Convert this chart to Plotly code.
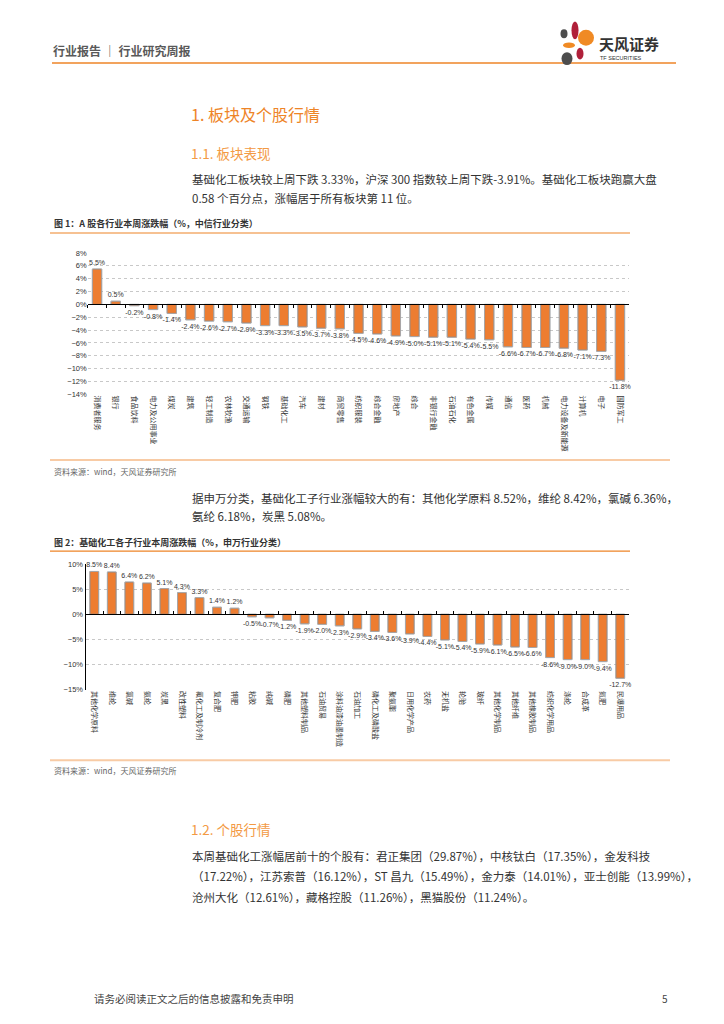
import plotly.graph_objects as go

# the page body keeps an 8px margin, so the figure is drawn 8px in from the window edge
PAGE_W, PAGE_H = 724, 1024
OFF = 8
W, H = PAGE_W - 2 * OFF, PAGE_H - 2 * OFF

# chart 1: CITIC industries, weekly change (%)
ind_names = ["消费者服务", "银行", "食品饮料", "电力及公用事业", "煤炭", "建筑", "轻工制造",
             "农林牧渔", "交通运输", "钢铁", "基础化工", "汽车", "建材", "商贸零售",
             "纺织服装", "综合金融", "房地产", "综合", "非银行金融", "石油石化", "有色金属",
             "传媒", "通信", "医药", "机械", "电力设备及新能源", "计算机", "电子", "国防军工"]
ind_chg = [5.5, 0.5, -0.2, -0.8, -1.4, -2.4, -2.6, -2.7, -2.9, -3.3, -3.3, -3.5, -3.7, -3.8,
           -4.5, -4.6, -4.9, -5.0, -5.1, -5.1, -5.4, -5.5, -6.6, -6.7, -6.7, -6.8, -7.1, -7.3,
           -11.8]

# chart 2: SW basic chemicals sub-industries, weekly change (%)
sub_names = ["其他化学原料", "维纶", "氯碱", "氨纶", "炭黑", "改性塑料", "氟化工及制冷剂",
             "复合肥", "钾肥", "粘胶", "纯碱", "磷肥", "其他塑料制品", "石油贸易",
             "涂料油漆油墨制造", "石油加工", "磷化工及磷酸盐", "聚氨酯", "日用化学产品", "农药",
             "无机盐", "轮胎", "玻纤", "其他化学制品", "其他纤维", "其他橡胶制品",
             "纺织化学用品", "涤纶", "合成革", "氮肥", "民爆用品"]
sub_chg = [8.5, 8.4, 6.4, 6.2, 5.1, 4.3, 3.3, 1.4, 1.2, -0.5, -0.7, -1.2, -1.9, -2.0, -2.3,
           -2.9, -3.4, -3.6, -3.9, -4.4, -5.1, -5.4, -5.9, -6.1, -6.5, -6.6, -8.6, -9.0, -9.0,
           -9.4, -12.7]

ORANGE = "#ED7D31"
LINE_OR = "#EE8427"
TXT = "#333333"
FONT = "Noto Sans CJK SC"


def px(x):
    return (x - OFF) / W


def py(y):
    return 1 - (y - OFF) / H


fig = go.Figure()

# page layout of the two charts (page pixels)
c1 = dict(x0=87.7, x1=629.3, top=251.0, bot=394.0, rng=[-14, 8], dtick=2)
c2 = dict(x0=85.5, x1=629.0, top=564.8, bot=692.0, rng=[-15, 10], dtick=5)


def zero_pos(c):
    lo, hi = c["rng"]
    b, t = py(c["bot"]), py(c["top"])
    return b + (0 - lo) / (hi - lo) * (t - b)


def padded(c):
    lo, hi = c["rng"]
    return [lo - 0.02, hi + 0.02]


for names, vals, xa, ya, xz in [(ind_names, ind_chg, "x", "y", "x3"),
                                (sub_names, sub_chg, "x2", "y2", "x4")]:
    fig.add_trace(go.Bar(
        x=names, y=vals, xaxis=xa, yaxis=ya,
        marker=dict(color=ORANGE, line=dict(color="#4a4a4a", width=0.8)),
        texttemplate="%{y:.1f}%", textposition="outside", constraintext="none",
        cliponaxis=False, textfont=dict(size=7, color=TXT, family="Arial"),
        showlegend=False, hoverinfo="x+y",
    ))
    # invisible copy so the zero-line axis gets its category ticks
    fig.add_trace(go.Bar(
        x=names, y=vals, xaxis=xz, yaxis=ya,
        marker=dict(color="rgba(0,0,0,0)"), showlegend=False, hoverinfo="skip",
    ))

common_y = dict(ticksuffix="%", showgrid=True, gridcolor="#C8C8C8", griddash="dot",
                gridwidth=1, zeroline=True, zerolinecolor="#000000", zerolinewidth=1,
                tickfont=dict(size=7.5, color=TXT, family="Arial"), ticks="")
common_x = dict(type="category", tickangle=90, showgrid=False, showline=False,
                tickfont=dict(size=7, color=TXT, family=FONT), ticks="")

fig.update_layout(
    width=W, height=H, margin=dict(l=0, r=0, t=0, b=0),
    paper_bgcolor="white", plot_bgcolor="white", bargap=0.5,
    font=dict(family=FONT, color=TXT),
    xaxis=dict(domain=[px(c1["x0"]), px(c1["x1"])], anchor="y", **common_x),
    yaxis=dict(domain=[py(c1["bot"]), py(c1["top"])], anchor="x", range=padded(c1),
               dtick=c1["dtick"], tick0=0, **common_y),
    xaxis2=dict(domain=[px(c2["x0"]), px(c2["x1"])], anchor="y2", **common_x),
    yaxis2=dict(domain=[py(c2["bot"]), py(c2["top"])], anchor="x2", range=padded(c2),
                dtick=c2["dtick"], tick0=0, showline=True, linecolor="#000000",
                linewidth=1, **common_y),
    xaxis3=dict(type="category", overlaying="x", matches="x", anchor="free",
                position=zero_pos(c1), showline=True, linecolor="#000000", linewidth=1,
                ticks="outside", tickson="boundaries", ticklen=3, tickcolor="#000000",
                showticklabels=False, showgrid=False),
    xaxis4=dict(type="category", overlaying="x2", matches="x2", anchor="free",
                position=zero_pos(c2), showline=True, linecolor="#000000", linewidth=1,
                ticks="inside", tickson="boundaries", ticklen=3, tickcolor="#000000",
                showticklabels=False, showgrid=False),
)

ann = []


def text(x, y, s, size, color=TXT, bold=False, anchor="left", family=FONT):
    if bold:
        s = "<b>" + s + "</b>"
    ann.append(dict(x=px(x), y=py(y), xref="paper", yref="paper", text=s, showarrow=False,
                    xanchor=anchor, yanchor="middle",
                    font=dict(size=size, color=color, family=family)))


shapes = []


def hline(x0, x1, y, color, width=1):
    shapes.append(dict(type="line", xref="paper", yref="paper", x0=px(x0), x1=px(x1),
                       y0=py(y), y1=py(y), line=dict(color=color, width=width)))


def petal(cx, cy, rx, ry, color):
    shapes.append(dict(type="circle", xref="paper", yref="paper", x0=px(cx - rx),
                       x1=px(cx + rx), y0=py(cy + ry), y1=py(cy - ry),
                       fillcolor=color, line=dict(width=0)))


# header with logo
text(51, 46.5, "行业报告 ｜ 行业研究周报", 12, "#595959", bold=True)
hline(52, 676, 59.5, LINE_OR, 1.5)
petal(564, 30, 3.5, 4.5, "#4d4d4d")
petal(575, 26.5, 3.5, 9, "#B0203A")
petal(586, 34, 8, 8, "#F08A24")
petal(569, 41.5, 6, 2.8, "#F08A24")
petal(580, 50, 3.5, 6, "#B0203A")
petal(567, 55, 5.5, 6.5, "#4d4d4d")
text(597, 40, "天风证券", 15, "#333333", bold=True)
text(598, 54, "TF SECURITIES", 5.5, "#333333", family="Arial")

# section headings and body text
text(189, 111, "1. 板块及个股行情", 16, LINE_OR)
text(189, 150, "1.1. 板块表现", 13.5, "#F39A44")
text(190, 177, "基础化工板块较上周下跌 3.33%，沪深 300 指数较上周下跌-3.91%。基础化工板块跑赢大盘",
     11.5)
text(190, 196, "0.58 个百分点，涨幅居于所有板块第 11 位。", 11.5)

text(52, 221.5, "图 1：A 股各行业本周涨跌幅（%，中信行业分类）", 9, bold=True)
hline(50, 630, 231, LINE_OR, 1.2)
hline(50, 670, 460, "#F8CBA5", 2)
text(52, 472, "资料来源：wind，天风证券研究所", 8, "#666666")

text(190, 498, "据申万分类，基础化工子行业涨幅较大的有：其他化学原料 8.52%，维纶 8.42%，氯碱 6.36%，",
     11.5)
text(190, 517, "氨纶 6.18%，炭黑 5.08%。", 11.5)

text(52, 543, "图 2：基础化工各子行业本周涨跌幅（%，申万行业分类）", 9, bold=True)
hline(50, 630, 552, LINE_OR, 1.2)
hline(50, 670, 763, "#F8CBA5", 2)
text(52, 773, "资料来源：wind，天风证券研究所", 8, "#666666")

text(189, 832, "1.2. 个股行情", 13.5, "#F39A44")
text(190, 859.5, "本周基础化工涨幅居前十的个股有：君正集团（29.87%），中核钛白（17.35%），金发科技",
     11.5)
text(190, 880, "（17.22%），江苏索普（16.12%），ST 昌九（15.49%），金力泰（14.01%），亚士创能（13.99%），",
     11.5)
text(190, 900.5, "沧州大化（12.61%），藏格控股（11.26%），黑猫股份（11.24%）。", 11.5)

# footer
text(92, 1003, "请务必阅读正文之后的信息披露和免责申明", 10.5, "#444444")
text(670, 1003, "5", 10, "#444444", anchor="right")

fig.update_layout(annotations=ann, shapes=shapes)

fig.write_html("out.html")
